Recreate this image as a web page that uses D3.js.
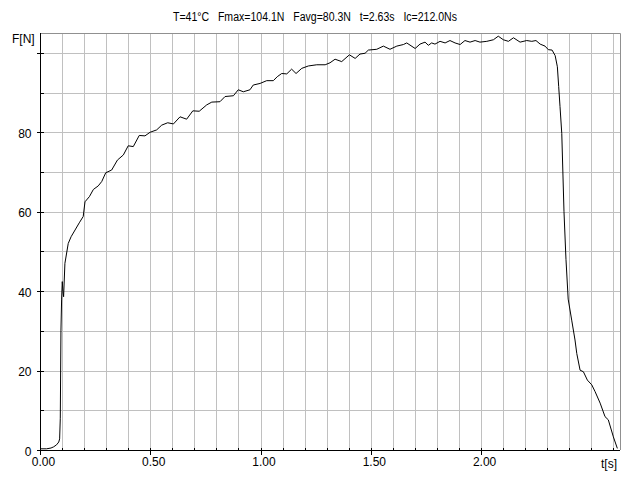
<!DOCTYPE html>
<html>
<head>
<meta charset="utf-8">
<script src="https://cdn.jsdelivr.net/npm/d3@7"></script>
<style>
  body { margin: 0; background: #fff; }
  svg { display: block; }
  text { font-family: "Liberation Sans", Arial, sans-serif; font-size: 12px; fill: #000; }
</style>
</head>
<body>
<div id="chart"></div>
<script>
// force curve: time [s] and force [N]
const timeS = [
  0, 0.03, 0.05, 0.062, 0.075, 0.085, 0.089, 0.092, 0.095, 0.098, 0.101, 0.104, 0.107,
  0.113, 0.128, 0.141, 0.159, 0.178, 0.196, 0.204, 0.224, 0.242, 0.264, 0.280, 0.298,
  0.325, 0.351, 0.378, 0.400, 0.423, 0.450, 0.476, 0.499, 0.529, 0.552, 0.579, 0.605,
  0.635, 0.665, 0.693, 0.722, 0.756, 0.779, 0.816, 0.839, 0.877, 0.899, 0.922, 0.952,
  0.967, 0.998, 1.028, 1.058, 1.076, 1.096, 1.119, 1.141, 1.161, 1.187, 1.217, 1.255,
  1.293, 1.315, 1.338, 1.368, 1.403, 1.429, 1.451, 1.474, 1.489, 1.527, 1.557, 1.587,
  1.618, 1.648, 1.663, 1.701, 1.723, 1.746, 1.761, 1.776, 1.791, 1.814, 1.837, 1.859,
  1.882, 1.905, 1.927, 1.950, 1.973, 1.995, 2.026, 2.056, 2.078, 2.101, 2.124, 2.147,
  2.177, 2.207, 2.230, 2.249, 2.268, 2.290, 2.305, 2.322, 2.336, 2.346, 2.352, 2.358,
  2.366, 2.376, 2.385, 2.395, 2.411, 2.426, 2.434, 2.449, 2.464, 2.482, 2.502, 2.517,
  2.540, 2.562, 2.577, 2.600, 2.618
];
const forceN = [
  0.3, 0.3, 0.5, 0.8, 1.3, 2.0, 2.8, 8, 30, 38, 42.4, 40, 38.6,
  47, 52, 53.7, 55.4, 57.2, 58.8, 62.5, 63.8, 65.6, 66.5, 67.6, 69.8,
  70.5, 73, 74.3, 76.6, 76.4, 79.2, 79.1, 80, 80.6, 81.8, 82.4, 82.1,
  83.9, 83.3, 85.4, 85.3, 86.9, 87.6, 87.7, 89, 89.2, 90.7, 90.2, 90.7,
  91.9, 92.3, 93, 93, 94, 94.8, 94.7, 95.9, 94.8, 96.1, 96.7, 97,
  97, 97.5, 98.4, 97.8, 99.5, 98.6, 99.7, 99.9, 100.7, 100.9, 101.7, 100.9,
  101.7, 102.1, 102.5, 101.1, 102.2, 102.7, 101.9, 102.5, 102.2, 102.9, 102.5, 103.1,
  102.5, 102.1, 103.1, 102.7, 103.1, 102.7, 102.9, 103.3, 104.2, 103.3, 102.9, 103.8,
  102.7, 103.1, 102.9, 103.1, 102.2, 101.7, 100.8, 100.7, 99.3, 96.5, 91.5, 86.5,
  79.7, 60, 48, 38, 32.7, 27.7, 24.3, 20.1, 19.7, 17.6, 16.4, 14.7,
  11.8, 8.4, 7.6, 3.3, 0.4
];

const title = "T=41°C   Fmax=104.1N   Favg=80.3N   t=2.63s   Ic=212.0Ns";
const xMajorTicks = [0, 0.5, 1.0, 1.5, 2.0];
const xMinorTicks = d3.range(0, 27).map(i => i / 10);
const yMajorTicks = [0, 20, 40, 60, 80, 100];
const yMinorTicks = d3.range(0, 11).map(i => i * 10);
const yLabelled = [0, 20, 40, 60, 80];

const width = 640, height = 480;
const plot = { left: 40, right: 620, top: 33, bottom: 450 };

const x = d3.scaleLinear().domain([0, 2.63]).range([plot.left, plot.right]);
const y = d3.scaleLinear().domain([0, 105]).range([plot.bottom, plot.top]);
const px = v => Math.round(v) + 0.5;

const svg = d3.select("#chart").append("svg")
  .attr("width", width)
  .attr("height", height);

// grid
const grid = svg.append("g").attr("stroke", "#c0c0c0").attr("stroke-width", 1);
grid.selectAll(".vg")
  .data(xMinorTicks.filter(d => d > 0))
  .enter().append("line")
  .attr("x1", d => px(x(d))).attr("x2", d => px(x(d)))
  .attr("y1", plot.top).attr("y2", plot.bottom);
grid.selectAll(".hg")
  .data(yMinorTicks.filter(d => d > 0))
  .enter().append("line")
  .attr("x1", plot.left).attr("x2", plot.right)
  .attr("y1", d => px(y(d))).attr("y2", d => px(y(d)));

// frame top / right
svg.append("path")
  .attr("d", `M${plot.left},${px(plot.top)}H${px(plot.right)}V${plot.bottom}`)
  .attr("fill", "none")
  .attr("stroke", "#909090");

// axes
function styleAxis(g) {
  g.select(".domain").remove();
  g.selectAll(".tick line").attr("stroke", "#000").attr("shape-rendering", "crispEdges");
  g.selectAll("text").attr("font-family", null).attr("font-size", null);
}

svg.append("g")
  .attr("transform", `translate(0,${px(plot.bottom)})`)
  .call(d3.axisBottom(x).tickValues(xMinorTicks).tickSize(-3).tickFormat(""))
  .call(styleAxis);
svg.append("g")
  .attr("transform", `translate(0,${px(plot.bottom)})`)
  .call(d3.axisBottom(x).tickValues(xMajorTicks).tickSize(4).tickPadding(3).tickFormat(d3.format(".2f")))
  .call(styleAxis)
  .selectAll("text").attr("dx", 3);

svg.append("g")
  .attr("transform", `translate(${px(plot.left)},0)`)
  .call(d3.axisLeft(y).tickValues(yMinorTicks).tickSize(-3).tickFormat(""))
  .call(styleAxis);
svg.append("g")
  .attr("transform", `translate(${px(plot.left)},0)`)
  .call(d3.axisLeft(y).tickValues(yMajorTicks).tickSize(4).tickPadding(5)
    .tickFormat(d => yLabelled.includes(d) ? d : ""))
  .call(styleAxis)
  .selectAll("text").attr("dy", "0.42em");

svg.append("line")
  .attr("x1", px(plot.left)).attr("x2", px(plot.left))
  .attr("y1", plot.top).attr("y2", plot.bottom + 1)
  .attr("stroke", "#000");
svg.append("line")
  .attr("x1", plot.left).attr("x2", plot.right)
  .attr("y1", px(plot.bottom)).attr("y2", px(plot.bottom))
  .attr("stroke", "#000");

// curve
const line = d3.line()
  .x((d, i) => x(timeS[i]))
  .y(d => y(d));
svg.append("path")
  .datum(forceN)
  .attr("d", line)
  .attr("fill", "none")
  .attr("stroke", "#000")
  .attr("stroke-width", 1);

// labels
svg.append("text")
  .attr("x", 315).attr("y", 21)
  .attr("text-anchor", "middle")
  .attr("textLength", 284)
  .attr("lengthAdjust", "spacingAndGlyphs")
  .style("white-space", "pre")
  .text(title);
svg.append("text").attr("x", 12).attr("y", 43).text("F[N]");
svg.append("text").attr("x", 617).attr("y", 468).attr("text-anchor", "end").text("t[s]");
</script>
</body>
</html>
